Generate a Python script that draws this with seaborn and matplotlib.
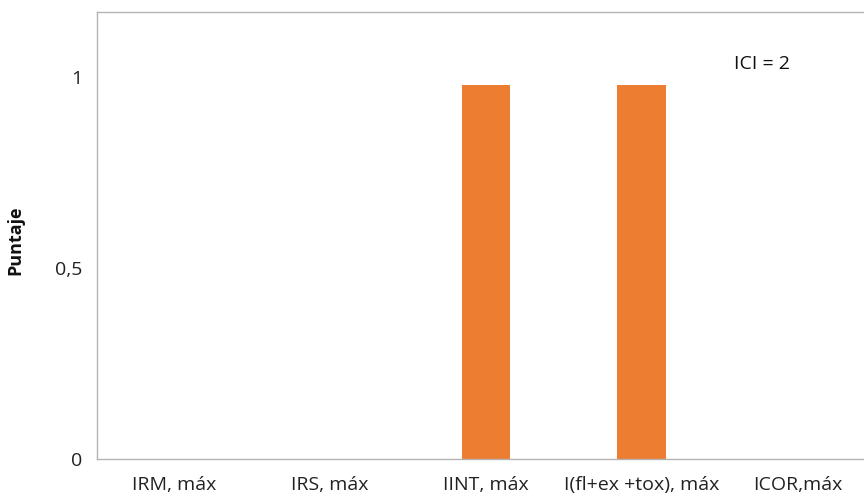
import matplotlib
matplotlib.use("Agg")
import matplotlib.pyplot as plt
import seaborn as sns
import pandas as pd

# Indicator scores
categories = ["IRM, máx", "IRS, máx", "IINT, máx", "I(fl+ex +tox), máx", "ICOR,máx"]
scores = [0, 0, 0.98, 0.98, 0]
yticks = [0, 0.5, 1]
ytick_labels = ["0", "0,5", "1"]
annotation = "ICI = 2"

sns.set_theme(style="white")
plt.rcParams["font.family"] = ["Open Sans", "DejaVu Sans"]

df = pd.DataFrame({"indicador": categories, "puntaje": scores})

fig = plt.figure(figsize=(8.64, 4.96), dpi=100)
ax = fig.add_axes([0.1117, 0.0736, 0.9016, 0.9022])

sns.barplot(data=df, x="indicador", y="puntaje", color="#ED7D31",
            width=0.314, saturation=1, ax=ax, edgecolor="none")

ax.set_xlim(-0.5, len(categories) - 0.5)
ax.set_ylim(0, 1.171)
ax.set_yticks(yticks)
ax.set_yticklabels(ytick_labels)
ax.tick_params(axis="both", length=0, labelsize=14, colors="#222222")
ax.tick_params(axis="x", pad=12)
ax.tick_params(axis="y", pad=10)

ax.set_xlabel("")
ax.set_ylabel("Puntaje", fontsize=13, fontweight="bold", color="#111111")
ax.yaxis.set_label_coords(-0.092, 0.49)

for side in ["left", "top", "bottom"]:
    ax.spines[side].set_color("#b3b3b3")
    ax.spines[side].set_linewidth(1.0)
ax.spines["right"].set_visible(False)

ax.text(3.77, 1.035, annotation, fontsize=14, color="#111111", ha="center", va="center")

fig.savefig("out.png", dpi=100)
